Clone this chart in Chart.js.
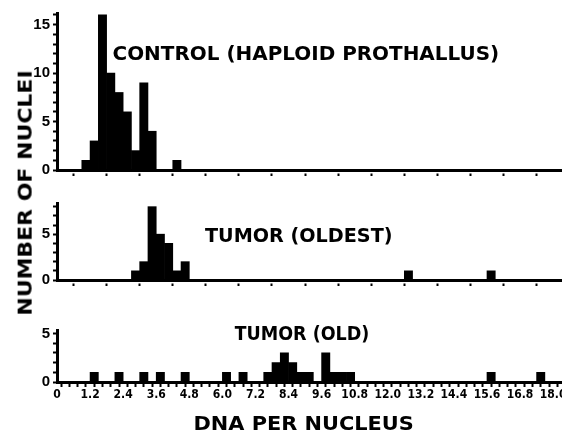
<!DOCTYPE html>
<html>
<head>
<meta charset="utf-8">
<script src="https://cdn.jsdelivr.net/npm/chart.js@4.4.0/dist/chart.umd.min.js"></script>
<style>
  html, body { margin: 0; padding: 0; width: 562px; height: 431px; overflow: hidden; background: #fff; }
  canvas { position: absolute; left: 0; }
  .lbl { position: absolute; font: bold 20px "DejaVu Sans", sans-serif; color: #000; white-space: nowrap; line-height: 20px; transform-origin: 50% 50%; }
</style>
</head>
<body>
<canvas id="control" width="600" height="185" style="top:0px"></canvas>
<canvas id="oldest" width="600" height="105" style="top:190px"></canvas>
<canvas id="old" width="600" height="111" style="top:320px"></canvas>

<div class="lbl" data-cx="306" data-cy="52.5" data-w="387">CONTROL (HAPLOID PROTHALLUS)</div>
<div class="lbl" data-cx="299" data-cy="234.5" data-w="188">TUMOR (OLDEST)</div>
<div class="lbl" data-cx="302" data-cy="332.5" data-w="135">TUMOR (OLD)</div>
<div class="lbl" data-cx="303" data-cy="422.5" data-w="220">DNA PER NUCLEUS</div>
<div class="lbl" data-cx="24.5" data-cy="192.5" data-w="245" data-rot="-90">NUMBER OF NUCLEI</div>

<script>
// histogram bins: lower edge of each 0.3-wide class of DNA per nucleus
const binWidth = 0.3;

const controlBins = [0.9, 1.2, 1.5, 1.8, 2.1, 2.4, 2.7, 3.0, 3.3, 4.2];
const controlCounts = [1, 3, 16, 10, 8, 6, 2, 9, 4, 1];

const oldestBins = [2.7, 3.0, 3.3, 3.6, 3.9, 4.2, 4.5, 12.6, 15.6];
const oldestCounts = [1, 2, 8, 5, 4, 1, 2, 1, 1];

const oldBins = [1.2, 2.1, 3.0, 3.6, 4.5, 6.0, 6.6, 7.5, 7.8, 8.1, 8.4, 8.7, 9.0, 9.6, 9.9, 10.2, 10.5, 15.6, 17.4];
const oldCounts = [1, 1, 1, 1, 1, 1, 1, 1, 2, 3, 2, 1, 1, 3, 1, 1, 1, 1, 1];

const xTickStep = 1.2;   // labelled DNA ticks
const yLabelStep = 5;    // labelled count ticks

function makePanel(id, bins, counts, yMax, padTop, xHeight, labelled) {
  const data = bins.map((b, i) => ({ x: b + binWidth / 2, y: counts[i] }));
  const xGrid = labelled
    ? { drawOnChartArea: false, tickLength: 5, tickWidth: 2, tickColor: "#000" }
    : { drawOnChartArea: false, tickLength: 6, tickWidth: 2, tickColor: "#000", tickBorderDash: [0, 1.5, 2.5, 40] };

  return new Chart(document.getElementById(id), {
    type: "bar",
    data: {
      datasets: [
        {
          data: data,
          backgroundColor: "#000",
          borderWidth: 0,
          barPercentage: 1,
          categoryPercentage: 1,
        },
      ],
    },
    options: {
      responsive: false,
      animation: false,
      devicePixelRatio: 1,
      layout: { padding: { top: padTop, left: 0, right: 0, bottom: 0 } },
      plugins: { legend: { display: false }, tooltip: { enabled: false } },
      scales: {
        x: {
          type: "linear",
          min: 0,
          max: 19.7,
          offset: false,
          border: { color: "#000", width: 3 },
          grid: xGrid,
          ticks: {
            display: labelled,
            stepSize: labelled ? binWidth : xTickStep,
            autoSkip: false,
            includeBounds: false,
            maxRotation: 0,
            padding: 2,
            color: "#000",
            font: { family: '"Liberation Sans Narrow", "DejaVu Sans Condensed", sans-serif', weight: "bold", size: 12, lineHeight: 1 },
            callback: (v, i) => {
              if (i % 4 !== 0) return "";
              return v === 0 ? "0" : v.toFixed(1);
            },
          },
          afterFit: (s) => { s.height = xHeight; },
        },
        y: {
          min: 0,
          max: yMax,
          border: { color: "#000", width: 3 },
          grid: { drawOnChartArea: false, tickLength: 4, tickWidth: 2, tickColor: "#000" },
          ticks: {
            stepSize: 1,
            autoSkip: false,
            includeBounds: false,
            padding: 3,
            color: "#000",
            font: { family: '"Liberation Sans", sans-serif', weight: "bold", size: 15, lineHeight: 1 },
            callback: (v) => (v % yLabelStep === 0 ? v : ""),
          },
          afterFit: (s) => { s.width = 57; },
        },
      },
    },
  });
}

makePanel("control", controlBins, controlCounts, 16.2, 13, 15, false);
makePanel("oldest", oldestBins, oldestCounts, 8.4, 13, 15, false);
makePanel("old", oldBins, oldCounts, 5.3, 9, 49, true);

// place the html labels, stretched to the width they have in the figure
document.querySelectorAll(".lbl").forEach((el) => {
  const w = el.offsetWidth;
  const h = el.offsetHeight;
  const cx = +el.dataset.cx, cy = +el.dataset.cy;
  const rot = +(el.dataset.rot || 0);
  el.style.left = cx - w / 2 + "px";
  el.style.top = cy - h / 2 + "px";
  el.style.transform = "rotate(" + rot + "deg) scaleX(" + (+el.dataset.w / w) + ")";
});
</script>
</body>
</html>
